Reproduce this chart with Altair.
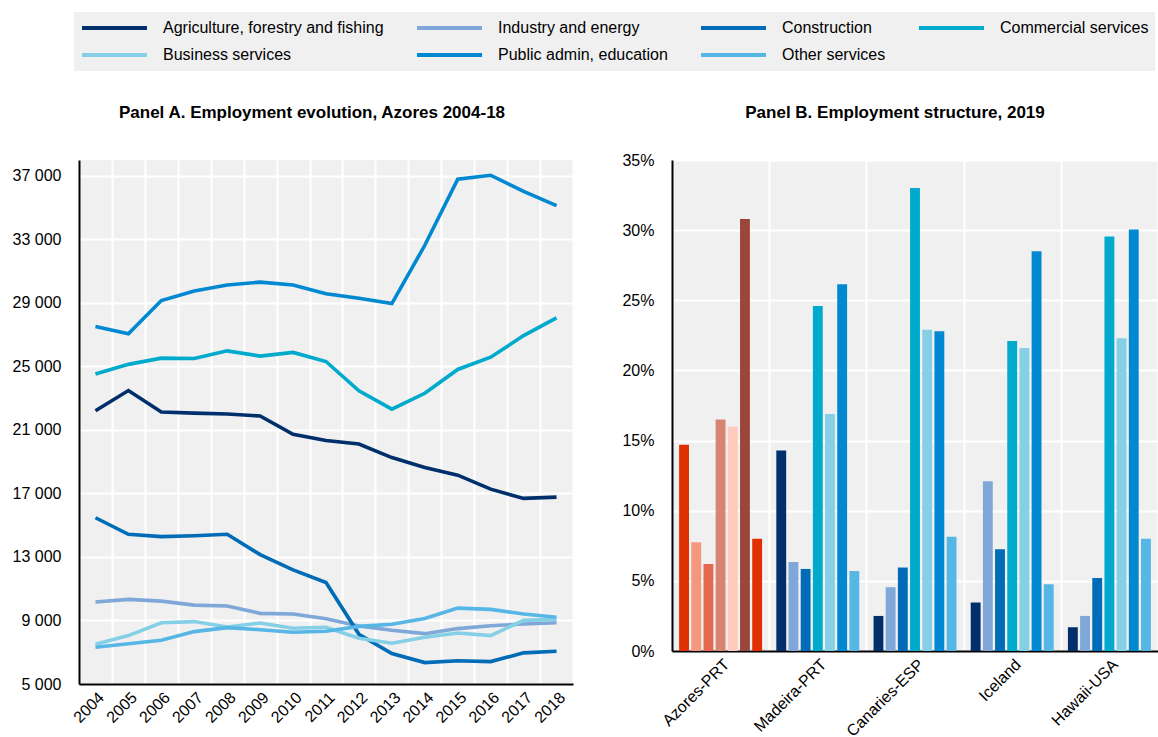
import altair as alt
import pandas as pd

FONT = "Liberation Sans, Arial"

years = list(range(2004, 2019))
sectors = ["Agriculture, forestry and fishing", "Industry and energy", "Construction",
           "Commercial services", "Business services", "Public admin, education", "Other services"]
colors = ["#002F6C", "#7FA8D9", "#006BB6", "#00AACC", "#85D0E6", "#0088D1", "#56B6E6"]

agri = [22210, 23480, 22130, 22060, 22000, 21880, 20730, 20330, 20110, 19260, 18630, 18150, 17270, 16690, 16770]
industry = [10160, 10330, 10220, 9970, 9910, 9450, 9410, 9110, 8650, 8380, 8170, 8490, 8670, 8780, 8860]
construction = [15470, 14430, 14280, 14340, 14430, 13150, 12190, 11390, 8130, 6920, 6350, 6460, 6410, 6960, 7060]
commercial = [24520, 25130, 25520, 25500, 25980, 25650, 25880, 25310, 23460, 22310, 23310, 24810, 25580, 26940, 28060]
business = [7500, 8050, 8860, 8930, 8590, 8840, 8510, 8570, 7880, 7570, 7940, 8210, 8050, 9010, 9070]
public = [27520, 27060, 29150, 29750, 30130, 30310, 30130, 29580, 29290, 28960, 32630, 36790, 37040, 36020, 35130]
other = [7310, 7540, 7750, 8300, 8550, 8420, 8260, 8320, 8630, 8760, 9130, 9780, 9700, 9410, 9200]
series = [agri, industry, construction, commercial, business, public, other]

regions = ["Azores-PRT", "Madeira-PRT", "Canaries-ESP", "Iceland", "Hawaii-USA"]
azores = [14.7, 7.75, 6.2, 16.5, 16.0, 30.8, 8.0]
madeira = [14.3, 6.35, 5.85, 24.6, 16.9, 26.15, 5.7]
canaries = [2.5, 4.55, 5.95, 33.0, 22.9, 22.8, 8.15]
iceland = [3.45, 12.1, 7.25, 22.1, 21.6, 28.5, 4.75]
hawaii = [1.7, 2.5, 5.2, 29.55, 22.3, 30.05, 8.0]
shares = [azores, madeira, canaries, iceland, hawaii]
azores_colors = ["#E03000", "#F4977D", "#E4674F", "#D88473", "#FDCABD", "#9C453A", "#E03000"]

titleA = "Panel A. Employment evolution, Azores 2004-18"
titleB = "Panel B. Employment structure, 2019"

WA, HA = 494, 524
WB, HB = 486, 491

# ---------- Panel A ----------
rowsA = []
for s, arr in zip(sectors, series):
    for y, v in zip(years, arr):
        rowsA.append({"year": y, "sector": s, "value": v})
dfA = pd.DataFrame(rowsA)

linesA = alt.Chart(dfA).mark_line(strokeWidth=3.6).encode(
    x=alt.X("year:O", bandPosition=0.5,
            scale=alt.Scale(type="band", paddingInner=0, paddingOuter=0),
            axis=alt.Axis(title=None, labelAngle=-45, tickBand="extent", grid=True,
                          labelPadding=5)),
    y=alt.Y("value:Q", scale=alt.Scale(domain=[5000, 38000], nice=False, zero=False),
            axis=alt.Axis(title=None, values=list(range(5000, 38000, 4000)),
                          labelExpr="replace(format(datum.value, ','), ',', ' ')",
                          labelPadding=18)),
    color=alt.Color("sector:N", sort=sectors,
                    scale=alt.Scale(domain=sectors, range=colors),
                    legend=alt.Legend(title=None, orient="none", legendX=-5, legendY=-148,
                                      direction="horizontal", columns=4, symbolType="stroke",
                                      symbolSize=4225, symbolStrokeWidth=4, clipHeight=20,
                                      labelFont=FONT, labelFontSize=16, labelColor="black",
                                      labelLimit=500, labelOffset=14,
                                      fillColor="#F0F0F0", padding=6,
                                      columnPadding=31, rowPadding=7)),
)
headA = alt.Chart(pd.DataFrame({"t": [titleA]})).mark_text(
    font=FONT, fontSize=17, fontWeight="bold", color="black", align="center", baseline="middle"
).encode(text="t:N", x=alt.value(233), y=alt.value(-47))

panelA = alt.layer(linesA, headA).properties(width=WA, height=HA)

# ---------- Panel B ----------
rowsB = []
for r, arr in zip(regions, shares):
    for i, (s, v) in enumerate(zip(sectors, arr)):
        key = ("Azores " + str(i)) if r == "Azores-PRT" else s
        rowsB.append({"region": r, "sector": s, "value": v, "key": key})
dfB = pd.DataFrame(rowsB)
keys = ["Azores " + str(i) for i in range(len(sectors))] + sectors
key_colors = azores_colors + colors

barsB = alt.Chart(dfB).mark_bar().encode(
    x=alt.X("region:N", sort=regions,
            scale=alt.Scale(paddingInner=0, paddingOuter=0),
            axis=alt.Axis(title=None, labelAngle=-45, tickBand="extent", grid=True,
                          labelPadding=5)),
    xOffset=alt.XOffset("sector:N", sort=sectors,
                        scale=alt.Scale(paddingInner=0.19, paddingOuter=0.585)),
    y=alt.Y("value:Q", scale=alt.Scale(domain=[0, 35], nice=False),
            axis=alt.Axis(title=None, values=[0, 5, 10, 15, 20, 25, 30, 35],
                          labelExpr="datum.value + '%'", labelPadding=18)),
    color=alt.Color("key:N", scale=alt.Scale(domain=keys, range=key_colors), legend=None),
)
headB = alt.Chart(pd.DataFrame({"t": [titleB]})).mark_text(
    font=FONT, fontSize=17, fontWeight="bold", color="black", align="center", baseline="middle"
).encode(text="t:N", x=alt.value(223), y=alt.value(-47))

panelB = alt.layer(barsB, headB).properties(width=WB, height=HB)

chart = alt.hconcat(panelA, panelB, spacing=99, bounds="flush").resolve_scale(
    color="independent"
).resolve_legend(color="independent").properties(
    padding={"left": 12, "top": 12, "right": 0, "bottom": 0},
    background="white",
).configure_view(
    fill="#F0F0F0", stroke=None
).configure_axis(
    labelFont=FONT, labelFontSize=16, labelColor="black",
    domainColor="black", domainWidth=2, ticks=False,
    gridColor="white", gridWidth=2,
)

chart.save("out.html", embed_options={"renderer": "svg", "actions": False})
